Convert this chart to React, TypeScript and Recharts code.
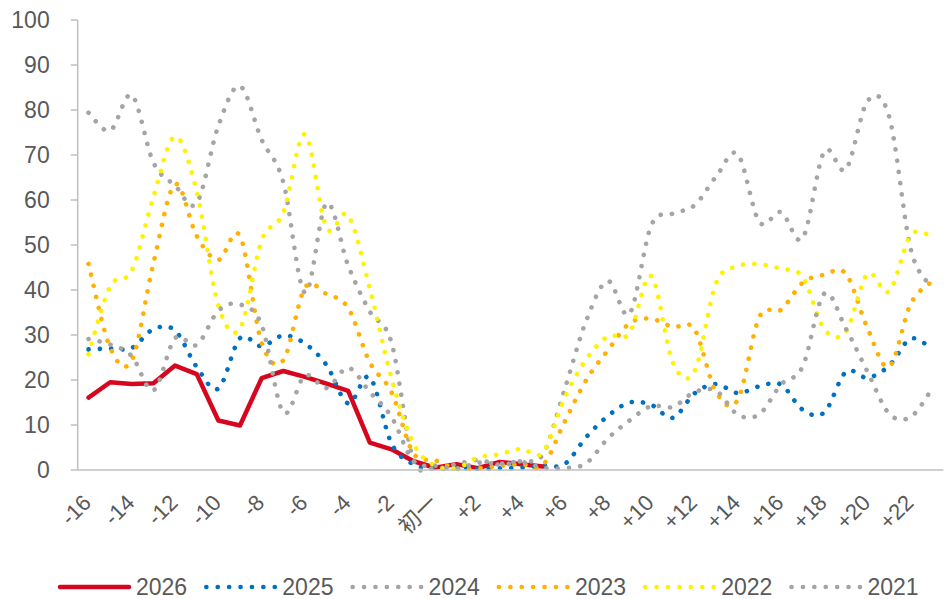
import React from 'react'
import { LineChart, Line, XAxis, YAxis } from 'recharts'

const FONT = "'Liberation Sans', Arial, 'Noto Sans CJK SC', sans-serif"
const TEXT = '#595959'
const AXIS = '#bfbfbf'

// Days around the Lunar New Year
const CATEGORIES = [
  '-16', '-15', '-14', '-13', '-12', '-11', '-10', '-9', '-8', '-7', '-6', '-5', '-4', '-3', '-2', '-1',
  '初一',
  '+1', '+2', '+3', '+4', '+5', '+6', '+7', '+8', '+9', '+10', '+11', '+12', '+13', '+14', '+15',
  '+16', '+17', '+18', '+19', '+20', '+21', '+22', '+23',
]

const S2026 = [
  16.1, 19.5, 19.1, 19.3, 23.2, 21.3, 11.0, 9.9, 20.4, 22.0, 20.7, 19.2, 17.6, 6.1, 4.6, 2.0,
  0.5, 1.3, 0.4, 1.8, 1.3, 0.8,
]

const S2025 = [
  26.8, 27.0, 27.1, 31.3, 31.0, 22.9, 18.1, 29.3, 27.5, 29.9, 28.1, 23.3, 14.8, 20.6, 5.9, 1.3,
  0.3, 0.5, 0.3, 0.4, 0.5, 1.0, 1.3, 7.3, 12.0, 15.0, 14.5, 11.6, 17.0, 19.1, 17.1, 18.6,
  19.0, 13.4, 12.8, 21.8, 20.5, 23.2, 29.2, 26.8,
]

const S2024 = [
  79.4, 75.4, 83.3, 68.3, 63.2, 59.3, 76.5, 85.3, 73.4, 64.0, 39.4, 59.3, 45.4, 35.2, 28.3, 2.5,
  0.4, 1.3, 2.2, 1.2, 2.0, 3.5, 17.9, 33.2, 42.0, 34.7, 54.3, 57.0, 58.8, 65.2, 70.2, 55.1,
  57.3, 51.5, 70.8, 66.8, 82.0, 78.5, 49.0, 40.5,
]

const S2023 = [
  45.8, 27.2, 24.4, 46.0, 63.5, 52.0, 46.7, 52.0, 28.3, 24.4, 40.5, 39.1, 36.0, 23.9, 17.3, 3.8,
  2.2, 0.3, 0.4, 0.9, 1.3, 1.1, 10.7, 20.0, 26.6, 32.6, 33.6, 31.8, 31.3, 17.3, 15.6, 34.0,
  35.6, 41.6, 43.4, 43.6, 31.5, 22.9, 37.0, 42.0,
]

const S2022 = [
  25.7, 40.8, 44.3, 60.7, 74.1, 61.9, 36.6, 31.4, 51.0, 57.2, 74.6, 53.8, 56.6, 40.3, 20.4, 6.0,
  1.0, 0.4, 2.8, 3.5, 4.7, 3.9, 16.0, 24.6, 29.7, 30.4, 43.1, 23.9, 21.9, 41.5, 45.3, 45.7,
  44.7, 42.9, 31.3, 30.8, 43.6, 39.7, 52.2, 51.8,
]

const S2021 = [
  29.1, 27.9, 25.3, 17.7, 29.3, 27.8, 35.4, 36.8, 32.2, 12.8, 21.0, 18.2, 22.7, 17.3, 11.8, 2.0,
  1.0, 0.3, 1.6, 1.4, 1.8, 0.5, 0.4, 1.5, 7.0, 11.0, 14.2, 14.0, 17.3, 17.6, 12.3, 12.4,
  19.0, 23.0, 39.2, 31.4, 21.8, 12.5, 11.8, 18.2,
]

const Y_TICKS = [0, 10, 20, 30, 40, 50, 60, 70, 80, 90, 100]

const SERIES = [
  { key: 'y2026', name: '2026', color: '#d6061e', dotted: false },
  { key: 'y2025', name: '2025', color: '#0070c0', dotted: true },
  { key: 'y2024', name: '2024', color: '#a5a5a5', dotted: true },
  { key: 'y2023', name: '2023', color: '#ffb000', dotted: true },
  { key: 'y2022', name: '2022', color: '#fff200', dotted: true },
  { key: 'y2021', name: '2021', color: '#a5a5a5', dotted: true },
]

const data = CATEGORIES.map((cat, i) => ({
  idx: i,
  cat,
  y2026: S2026[i] ?? null,
  y2025: S2025[i] ?? null,
  y2024: S2024[i] ?? null,
  y2023: S2023[i] ?? null,
  y2022: S2022[i] ?? null,
  y2021: S2021[i] ?? null,
}))

// tick marks sit between categories, labels on every other category
const BOUNDARIES = Array.from({ length: CATEGORIES.length + 1 }, (_, k) => k - 0.5)
const LABEL_TICKS = CATEGORIES.map((_, i) => i).filter((i) => i % 2 === 0)

// Excel-like smoothed line (uniform Catmull-Rom as bezier segments)
function smoothCurve(context: any) {
  let pts: [number, number][] = []
  return {
    areaStart() {},
    areaEnd() {},
    lineStart() {
      pts = []
    },
    point(x: number, y: number) {
      pts.push([+x, +y])
    },
    lineEnd() {
      if (!pts.length) return
      context.moveTo(pts[0][0], pts[0][1])
      for (let i = 0; i < pts.length - 1; i++) {
        const p0 = pts[i - 1] || pts[i]
        const p1 = pts[i]
        const p2 = pts[i + 1]
        const p3 = pts[i + 2] || p2
        context.bezierCurveTo(
          p1[0] + (p2[0] - p0[0]) / 6,
          p1[1] + (p2[1] - p0[1]) / 6,
          p2[0] - (p3[0] - p1[0]) / 6,
          p2[1] - (p3[1] - p1[1]) / 6,
          p2[0],
          p2[1],
        )
      }
    },
  }
}

function XTick({ x, payload }: { x: number; payload: { value: number } }) {
  const ax = x + 4
  const ay = 504
  return (
    <text
      x={ax}
      y={ay}
      transform={`rotate(-45 ${ax} ${ay})`}
      textAnchor="end"
      fill={TEXT}
      fontSize={22}
      fontFamily={FONT}
    >
      {CATEGORIES[payload.value]}
    </text>
  )
}

function LegendRow() {
  return (
    <svg
      width={950}
      height={40}
      style={{ position: 'absolute', left: 0, top: 560 }}
    >
      {SERIES.map((s, k) => {
        const x0 = 60 + k * 146.3
        return (
          <g key={s.key}>
            <line
              x1={x0}
              x2={x0 + 69}
              y1={27}
              y2={27}
              stroke={s.color}
              strokeWidth={s.dotted ? 4.6 : 4.5}
              strokeLinecap="round"
              strokeDasharray={s.dotted ? '0.1 11.3' : undefined}
            />
            <text x={x0 + 76} y={35} fill={TEXT} fontSize={23} fontFamily={FONT}>
              {s.name}
            </text>
          </g>
        )
      })}
    </svg>
  )
}

export default function App() {
  return (
    <div style={{ position: 'absolute', left: 0, top: 0, width: 950, height: 599, background: '#fff' }}>
      <LineChart
        width={950}
        height={599}
        data={data}
        margin={{ top: 20, right: 6.7, bottom: 0, left: 0 }}
      >
        <XAxis
          xAxisId={0}
          dataKey="idx"
          type="number"
          domain={[-0.5, 39.5]}
          ticks={BOUNDARIES}
          interval={0}
          tick={false}
          tickSize={7}
          height={8}
          axisLine={{ stroke: AXIS, strokeWidth: 1.5 }}
          tickLine={{ stroke: AXIS, strokeWidth: 1.5 }}
        />
        <XAxis
          xAxisId="lab"
          dataKey="idx"
          type="number"
          domain={[-0.5, 39.5]}
          ticks={LABEL_TICKS}
          interval={0}
          axisLine={false}
          tickLine={false}
          height={121}
          tick={(props: any) => <XTick {...props} />}
        />
        <YAxis
          domain={[0, 100]}
          ticks={Y_TICKS}
          interval={0}
          width={77.7}
          tickSize={7}
          tickMargin={21}
          axisLine={{ stroke: AXIS, strokeWidth: 1.5 }}
          tickLine={{ stroke: AXIS, strokeWidth: 1.5 }}
          tick={{ fill: TEXT, fontSize: 23, fontFamily: FONT }}
        />
        {SERIES.map((s) => (
          <Line
            key={s.key}
            xAxisId={0}
            dataKey={s.key}
            name={s.name}
            type={s.dotted ? (smoothCurve as any) : 'linear'}
            stroke={s.color}
            strokeWidth={s.dotted ? 4.6 : 4.5}
            strokeDasharray={s.dotted ? '0.1 11.2' : undefined}
            strokeLinecap="round"
            strokeLinejoin="round"
            dot={false}
            activeDot={false}
            isAnimationActive={false}
          />
        ))}
      </LineChart>
      <LegendRow />
    </div>
  )
}
